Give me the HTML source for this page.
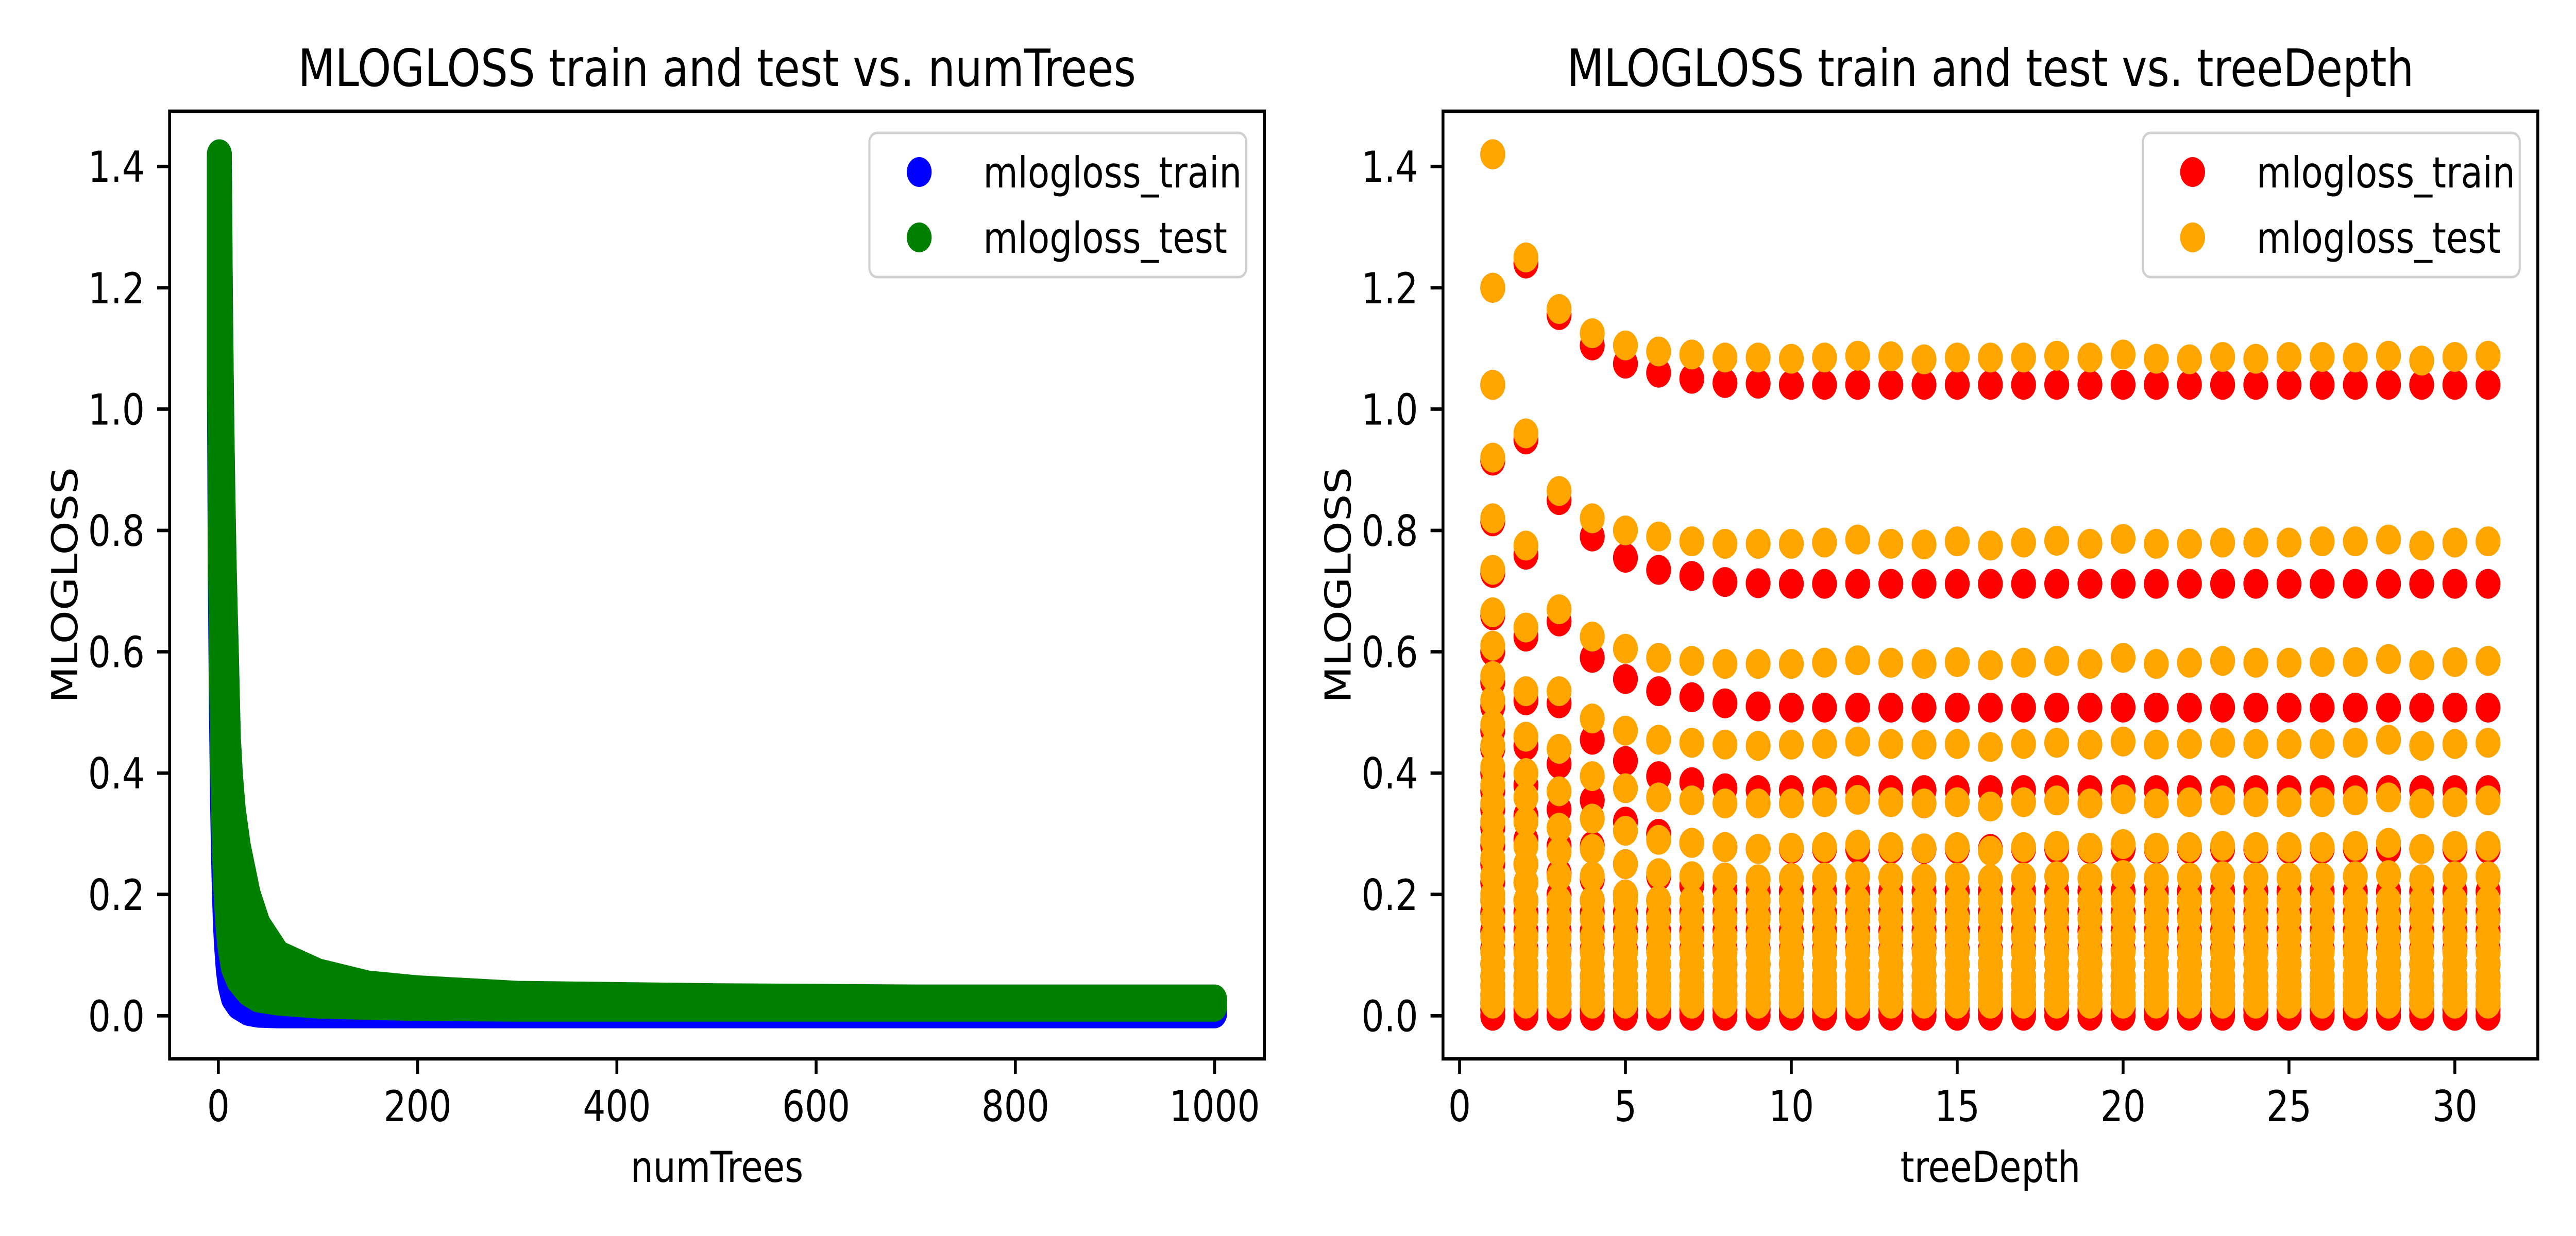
<!DOCTYPE html>
<html><head><meta charset="utf-8"><style>
html,body{margin:0;padding:0;background:#fff;width:100%;height:100%;overflow:hidden;}
svg{display:block;width:100vw;height:100vh;}
text{font-family:"DejaVu Sans","Liberation Sans",sans-serif;fill:#000;}
</style></head><body>
<svg id="fig" viewBox="0 0 6000 2400" preserveAspectRatio="none" xmlns="http://www.w3.org/2000/svg">
<rect width="6000" height="2400" fill="#fff"/>
<g id="left"></g>
<g id="right"></g>
</svg>
<script>
// ---------- Left chart data (numTrees) ----------
const numTrees = [1,2,3,4,5,6,7,8,10,12,15,20,30,40,60,100,150,200,300,500,700,1000];
const testUpper = [1.42,1.2,1.04,0.92,0.82,0.735,0.665,0.6,0.46,0.4,0.34,0.28,0.2,0.15,0.1,0.07,0.05,0.042,0.033,0.029,0.027,0.027];
const testLower = [1.085,0.78,0.582,0.448,0.352,0.278,0.228,0.19,0.14,0.11,0.08,0.06,0.04,0.03,0.025,0.02,0.018,0.016,0.015,0.015,0.015,0.015];
const trainUpper = [1.42,1.2,1.04,0.915,0.815,0.73,0.66,0.6,0.46,0.4,0.33,0.26,0.17,0.13,0.085,0.05,0.03,0.02,0.012,0.008,0.006,0.005];
const trainLower = [1.04,0.712,0.51,0.372,0.275,0.205,0.155,0.12,0.075,0.05,0.03,0.018,0.008,0.005,0.004,0.004,0.004,0.004,0.004,0.004,0.004,0.004];
const leftXTicks = [0,200,400,600,800,1000];
const yTicks = [0.0,0.2,0.4,0.6,0.8,1.0,1.2,1.4];

// ---------- Right chart data (treeDepth) ----------
const depths = [1,2,3,4,5,6,7,8,9,10,11,12,13,14,15,16,17,18,19,20,21,22,23,24,25,26,27,28,29,30,31];
const trainLevels = [
 [1.42,1.2,1.04,0.915,0.815,0.73,0.66,0.6,0.55,0.51,0.47,0.44,0.4,0.37,0.34,0.31,0.28,0.25,0.22,0.19],
 [1.24,0.95,0.76,0.625,0.52,0.445,0.38,0.33,0.29,0.25,0.22,0.19],
 [1.155,0.85,0.65,0.515,0.415,0.34,0.28,0.235,0.2],
 [1.105,0.79,0.59,0.455,0.355,0.28,0.225,0.19],
 [1.075,0.755,0.555,0.42,0.32,0.25,0.2],
 [1.06,0.735,0.535,0.395,0.3,0.23,0.19],
 [1.05,0.725,0.525,0.385,0.285,0.215],
 [1.043,0.715,0.515,0.375,0.278,0.207],
 [1.042,0.713,0.51,0.372,0.275,0.205],
 [1.04,0.712,0.508,0.372,0.275,0.205],
 [1.04,0.712,0.508,0.372,0.275,0.205],
 [1.04,0.712,0.508,0.372,0.275,0.205],
 [1.04,0.712,0.508,0.372,0.275,0.205],
 [1.04,0.712,0.508,0.372,0.275,0.205],
 [1.04,0.712,0.508,0.372,0.275,0.205],
 [1.04,0.712,0.508,0.372,0.275,0.205],
 [1.04,0.712,0.508,0.372,0.275,0.205],
 [1.04,0.712,0.508,0.372,0.275,0.205],
 [1.04,0.712,0.508,0.372,0.275,0.205],
 [1.04,0.712,0.508,0.372,0.275,0.205],
 [1.04,0.712,0.508,0.372,0.275,0.205],
 [1.04,0.712,0.508,0.372,0.275,0.205],
 [1.04,0.712,0.508,0.372,0.275,0.205],
 [1.04,0.712,0.508,0.372,0.275,0.205],
 [1.04,0.712,0.508,0.372,0.275,0.205],
 [1.04,0.712,0.508,0.372,0.275,0.205],
 [1.04,0.712,0.508,0.372,0.275,0.205],
 [1.04,0.712,0.508,0.372,0.275,0.205],
 [1.04,0.712,0.508,0.372,0.275,0.205],
 [1.04,0.712,0.508,0.372,0.275,0.205],
 [1.04,0.712,0.508,0.372,0.275,0.205]
];
const testLevels = [
 [1.42,1.2,1.04,0.92,0.82,0.735,0.665,0.61,0.56,0.52,0.48,0.445,0.41,0.38,0.35,0.32,0.29,0.26,0.23,0.2],
 [1.25,0.96,0.775,0.64,0.535,0.46,0.4,0.36,0.32,0.28,0.25,0.22],
 [1.165,0.865,0.67,0.535,0.44,0.37,0.31,0.27,0.23],
 [1.125,0.82,0.625,0.49,0.395,0.325,0.275,0.23],
 [1.105,0.8,0.605,0.47,0.375,0.305,0.25,0.2],
 [1.095,0.79,0.59,0.455,0.36,0.29,0.235],
 [1.09,0.782,0.585,0.45,0.355,0.285,0.23],
 [1.085,0.778,0.58,0.447,0.35,0.278,0.228],
 [1.085,0.778,0.58,0.445,0.35,0.275,0.225],
 [1.083,0.778,0.58,0.447,0.35,0.277,0.227],
 [1.085,0.78,0.582,0.448,0.352,0.278,0.228],
 [1.088,0.785,0.586,0.452,0.356,0.282,0.23],
 [1.087,0.778,0.582,0.448,0.352,0.278,0.228],
 [1.082,0.777,0.58,0.447,0.35,0.276,0.226],
 [1.085,0.782,0.583,0.448,0.352,0.278,0.228],
 [1.085,0.775,0.578,0.443,0.345,0.272,0.225],
 [1.085,0.78,0.582,0.448,0.352,0.278,0.228],
 [1.088,0.783,0.585,0.45,0.355,0.28,0.23],
 [1.085,0.778,0.58,0.447,0.35,0.277,0.227],
 [1.09,0.786,0.59,0.452,0.357,0.283,0.232],
 [1.083,0.778,0.58,0.447,0.35,0.277,0.227],
 [1.082,0.778,0.582,0.448,0.352,0.278,0.228],
 [1.086,0.78,0.585,0.45,0.355,0.28,0.23],
 [1.083,0.78,0.582,0.448,0.352,0.278,0.228],
 [1.086,0.78,0.582,0.448,0.352,0.278,0.228],
 [1.086,0.782,0.583,0.448,0.352,0.278,0.228],
 [1.085,0.782,0.583,0.45,0.355,0.28,0.23],
 [1.088,0.785,0.588,0.455,0.36,0.285,0.232],
 [1.08,0.775,0.578,0.445,0.35,0.275,0.225],
 [1.086,0.78,0.583,0.448,0.352,0.28,0.23],
 [1.088,0.782,0.585,0.45,0.355,0.28,0.23]
];
const trainTail = [0.17,0.14,0.11,0.085,0.065,0.05,0.035,0.02,0.01,0.0];
const testTail = [0.19,0.16,0.13,0.105,0.085,0.065,0.05,0.035,0.025,0.02];
const rightXTicks = [0,5,10,15,20,25,30];

const NS = "http://www.w3.org/2000/svg";
function mk(parent, tag, attrs, txt){
  const el = document.createElementNS(NS, tag);
  for (const k in attrs) el.setAttribute(k, attrs[k]);
  if (txt !== undefined) el.textContent = txt;
  parent.appendChild(el);
  return el;
}
const TOP = 216, BOT = 2056, YMIN = -0.071, YMAX = 1.491, R = 29;
function yScale(v){ return TOP + (YMAX - v) / (YMAX - YMIN) * (BOT - TOP); }

function axesFrame(g, x0, x1, xScale, xTicks, title, xlabel, ylabelX){
  yTicks.forEach(v => {
    const y = yScale(v);
    const t = mk(g, 'line', {x1:x0-29, x2:x0, y1:y, y2:y, stroke:'#000','stroke-width':6.7});
    
    
    const l = mk(g, 'text', {x:x0-58, y:y+30, 'font-size':83, 'text-anchor':'end'}, v.toFixed(1));
    
    
  });
  xTicks.forEach(v => {
    const x = xScale(v);
    const t = mk(g, 'line', {x1:x, x2:x, y1:BOT, y2:BOT+29, stroke:'#000','stroke-width':6.7});
    
    
    const l = mk(g, 'text', {x:x, y:2177, 'font-size':83, 'text-anchor':'middle'}, String(v));
    
    
  });
  const fr = mk(g, 'rect', {x:x0, y:TOP, width:x1-x0, height:BOT-TOP, fill:'none', stroke:'#000', 'stroke-width':6.7});
  
  
  const tt = mk(g, 'text', {x:(x0+x1)/2, y:167, 'font-size':100, 'text-anchor':'middle'}, title);
  
  
  const xl = mk(g, 'text', {x:(x0+x1)/2, y:2295, 'font-size':83, 'text-anchor':'middle'}, xlabel);
  
  
  const yc = (TOP+BOT)/2;
  const yl = mk(g, 'text', {x:ylabelX, y:yc, 'font-size':83, 'text-anchor':'middle', transform:'rotate(-90 '+ylabelX+' '+yc+')'}, 'MLOGLOSS');
  
  
}

function legend(g, x0, x1, c1, c2){
  const g2 = mk(g, 'g', {});
  
  
  mk(g2, 'rect', {x:x0, y:258, width:x1-x0, height:280, rx:18, fill:'#fff', 'fill-opacity':0.8, stroke:'#d0d0d0', 'stroke-width':5});
  const labels = ['mlogloss_train','mlogloss_test'], cols = [c1,c2], ys = [334,461];
  for (let i=0;i<2;i++){
    const e = mk(g2, 'g', {});
    
    
    mk(e, 'circle', {cx:x0+116, cy:ys[i], r:R, fill:cols[i]});
    mk(e, 'text', {x:x0+265, y:ys[i]+30, 'font-size':83}, labels[i]);
  }
}

// ---------- Left chart ----------
(function(){
  const g = document.getElementById('left');
  const X0 = 395, X1 = 2945, XMIN = -48.95, XMAX = 1049.95;
  const xs = v => X0 + (v - XMIN) / (XMAX - XMIN) * (X1 - X0);
  const plot = mk(g, 'g', {});
  
  
  function band(up, lo, col, name){
    const pts = [];
    numTrees.forEach((n,i) => pts.push(xs(n).toFixed(1)+','+yScale(up[i]).toFixed(1)));
    for (let i=numTrees.length-1;i>=0;i--) pts.push(xs(numTrees[i]).toFixed(1)+','+yScale(lo[i]).toFixed(1));
    const p = mk(plot, 'polygon', {points:pts.join(' '), fill:col, stroke:col, 'stroke-width':2*R, 'stroke-linejoin':'round'});
    
    
  }
  band(trainUpper, trainLower, '#0000ff', 'train-scatter');
  band(testUpper, testLower, '#008000', 'test-scatter');
  axesFrame(g, X0, X1, xs, leftXTicks, 'MLOGLOSS train and test vs. numTrees', 'numTrees', 180);
  legend(g, 2025, 2903, '#0000ff', '#008000');
})();

// ---------- Right chart ----------
(function(){
  const g = document.getElementById('right');
  const X0 = 3361, X1 = 5911, XMIN = -0.5, XMAX = 32.5;
  const xs = v => X0 + (v - XMIN) / (XMAX - XMIN) * (X1 - X0);
  const tr = mk(g, 'g', {});
  
  
  depths.forEach((d,i) => {
    trainLevels[i].concat(trainTail).forEach(v => {
      const c = mk(tr, 'circle', {cx:xs(d), cy:yScale(v), r:R, fill:'#ff0000'});
      
      
    });
  });
  const te = mk(g, 'g', {});
  
  
  depths.forEach((d,i) => {
    testLevels[i].concat(testTail).forEach(v => {
      const c = mk(te, 'circle', {cx:xs(d), cy:yScale(v), r:R, fill:'#ffa500'});
      
      
    });
  });
  axesFrame(g, X0, X1, xs, rightXTicks, 'MLOGLOSS train and test vs. treeDepth', 'treeDepth', 3146);
  legend(g, 4991, 5869, '#ff0000', '#ffa500');
})();
</script>
</body></html>
